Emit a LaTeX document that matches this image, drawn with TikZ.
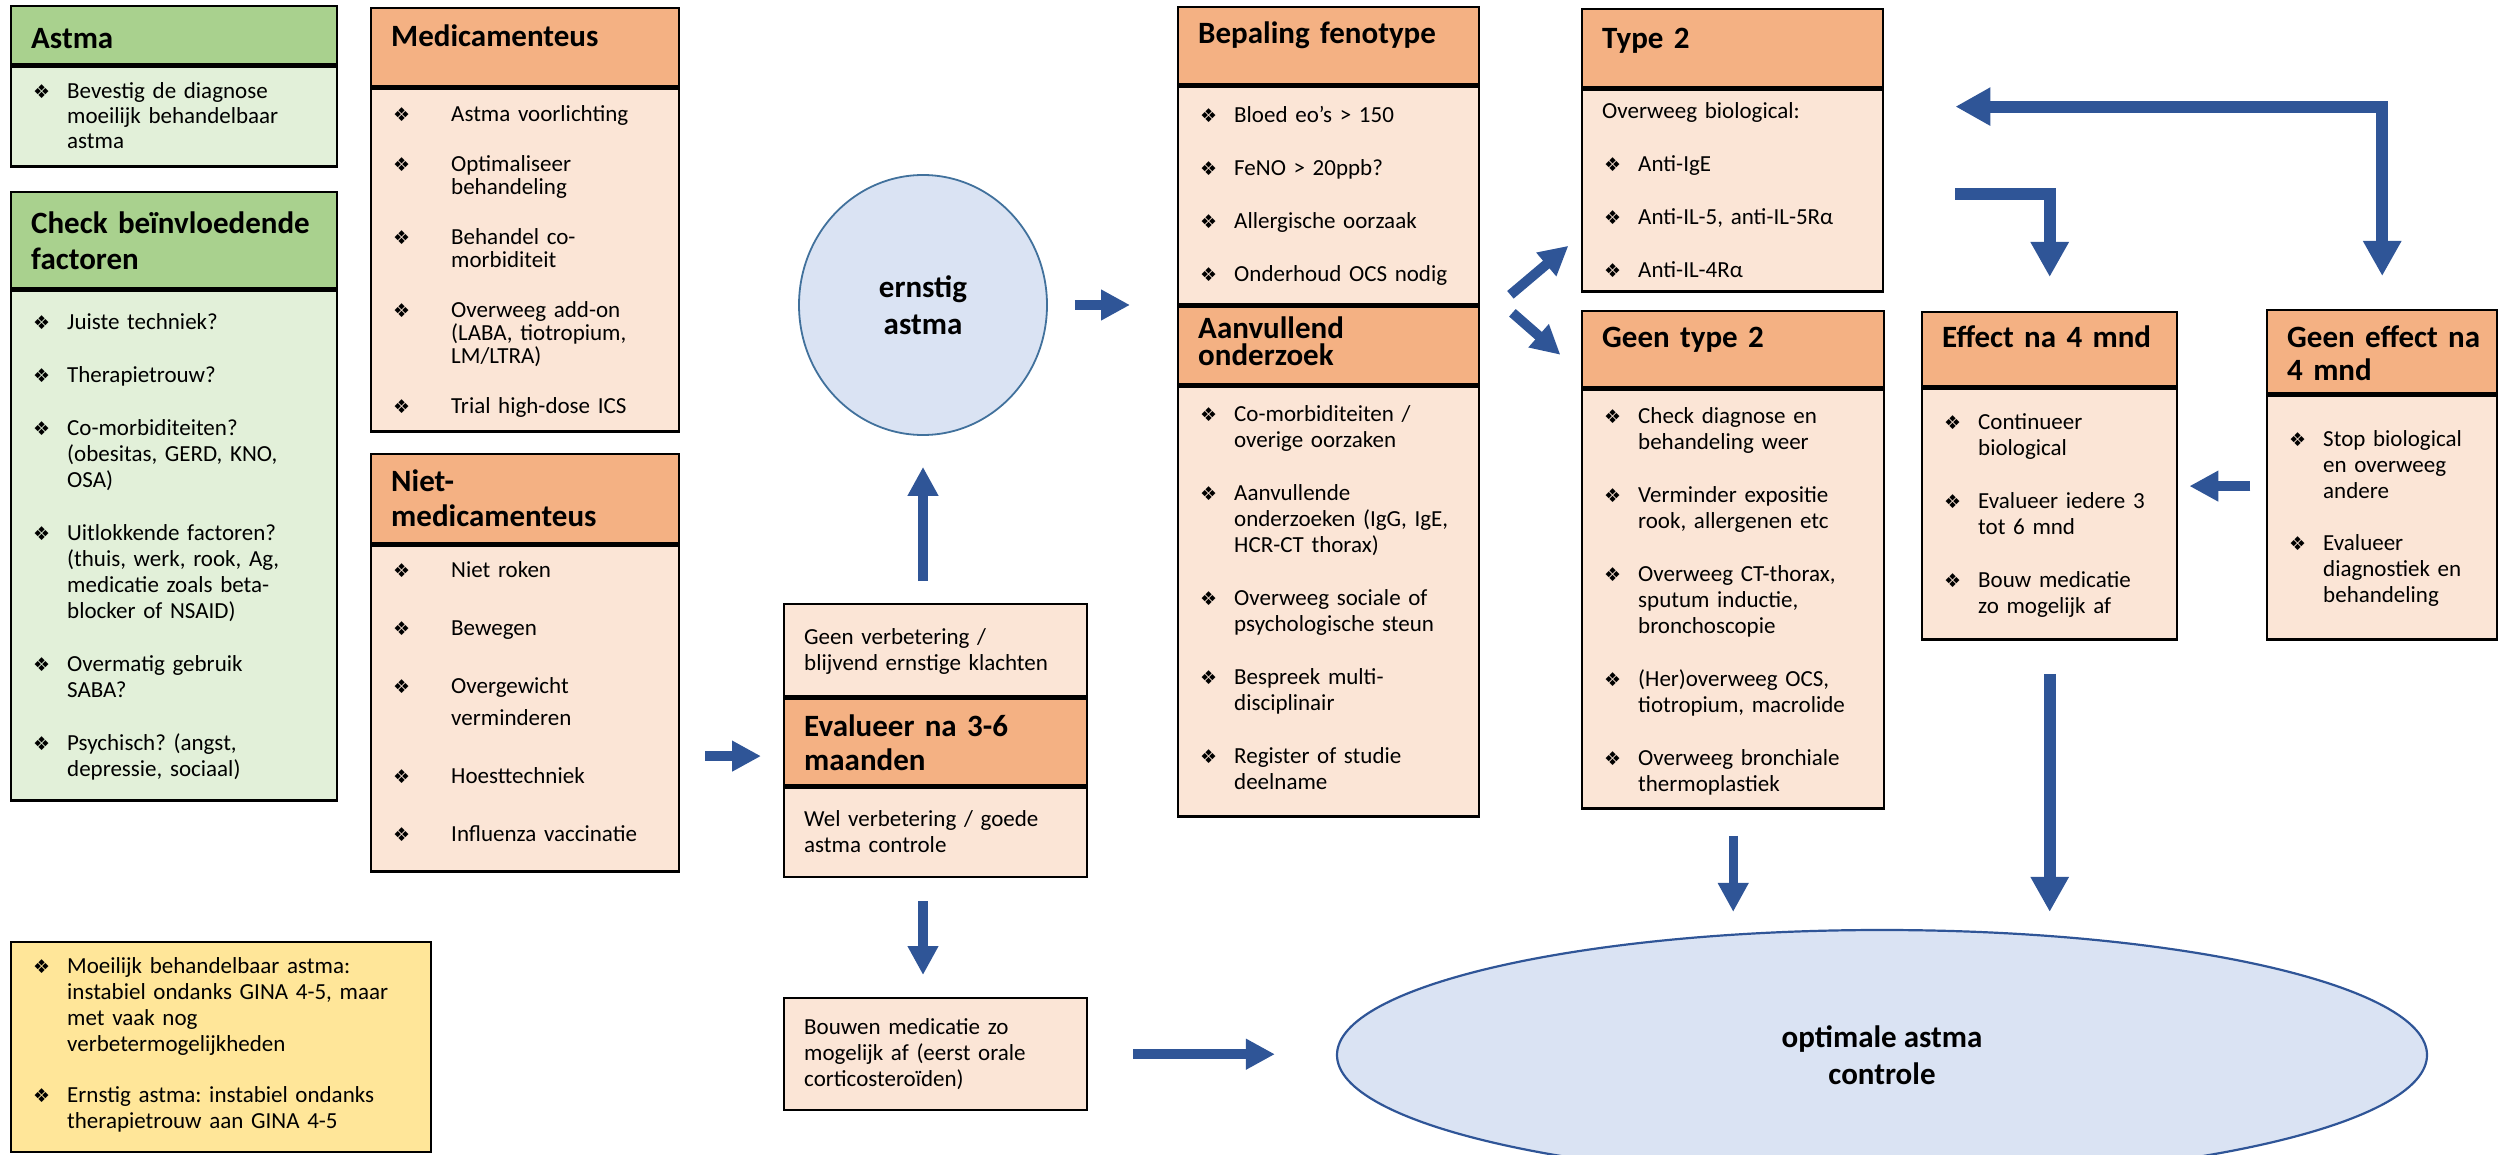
\documentclass[tikz,border=0pt]{standalone}
\usepackage{fontspec}
\setmainfont{Carlito}
\newfontfamily\dingfont{DejaVu Sans}
\usetikzlibrary{arrows.meta,shapes.geometric}

\definecolor{hdorange}{HTML}{F4B183}
\definecolor{bdpeach}{HTML}{FBE5D6}
\definecolor{hdgreen}{HTML}{A9D18E}
\definecolor{bdgreen}{HTML}{E2F0D9}
\definecolor{noteyellow}{HTML}{FFE699}
\definecolor{ovalfill}{HTML}{DAE3F3}
\definecolor{ovalline}{HTML}{41719C}
\definecolor{flowblue}{HTML}{2F5597}

\frenchspacing
\newcommand{\bdfont}{\fontsize{23}{26}\selectfont}
\newcommand{\hdfont}{\fontsize{31}{36}\selectfont\bfseries}
\newcommand{\bul}{{\dingfont\fontsize{19}{19}\selectfont ❖}}
\newcommand{\itm}[2][34pt]{\leftskip=22pt\hangindent=#1\hangafter=1\noindent\makebox[#1][l]{\bul}#2\par}
\newcommand{\ptxt}[1]{\leftskip=20pt\noindent #1\par}
\newcommand{\itmgap}[1][27pt]{\vspace{#1}}

\begin{document}
\begin{tikzpicture}[
		x=1pt, y=-1pt,
		flowtip/.tip={Triangle[length=29pt,width=29pt]},
		bigtip/.tip={Triangle[length=35pt,width=36pt]},
		hd/.style={draw, line width=2.4pt, fill=hdorange, anchor=north west, inner xsep=20pt, inner ysep=0pt, align=left, font=\hdfont},
		bd/.style={draw, line width=2.4pt, fill=bdpeach, anchor=north west, inner sep=0pt, align=left, font=\bdfont},
		pl/.style={bd, inner xsep=20pt},
		oval/.style={ellipse, draw=ovalline, line width=1.8pt, fill=ovalfill, align=center, font=\fontsize{31}{37}\selectfont\bfseries},
		flow/.style={draw=flowblue, line width=10pt, -flowtip},
		bigflow/.style={draw=flowblue, line width=12pt, -bigtip}
	]
		\useasboundingbox (0,0) rectangle (2498,1155);

		% left column
		\node[hd, fill=hdgreen, text width=286pt, text height=42pt, text depth=16pt] (astmaH) at (10,5) {Astma};
		\node[bd, fill=bdgreen, text width=326pt, text height=32pt, text depth=68pt, font=\fontsize{23}{25}\selectfont] (astmaB) at (astmaH.south west) {%
			\itm{Bevestig de diagnose\newline moeilijk behandelbaar\newline astma}};

		\node[hd, fill=hdgreen, text width=286pt, text height=41pt, text depth=55pt] (checkH) at (10,191) {\mbox{Check beïnvloedende}\\factoren};
		\node[bd, fill=bdgreen, text width=326pt, text height=39pt, text depth=471pt] (checkB) at (checkH.south west) {%
			\itm{Juiste techniek?}\itmgap
			\itm{Therapietrouw?}\itmgap
			\itm{Co-morbiditeiten?\newline (obesitas, GERD, KNO,\newline OSA)}\itmgap
			\itm{Uitlokkende factoren?\newline (thuis, werk, rook, Ag,\newline medicatie zoals beta-\newline blocker of NSAID)}\itmgap
			\itm{Overmatig gebruik\newline SABA?}\itmgap
			\itm{Psychisch? (angst,\newline depressie, sociaal)}};

		\node[bd, fill=noteyellow, text width=420pt, text height=31pt, text depth=179pt] (note) at (10,941) {%
			\itm{Moeilijk behandelbaar astma:\newline instabiel ondanks GINA 4-5, maar\newline met vaak nog\newline verbetermogelijkheden}\itmgap[25pt]
			\itm{Ernstig astma: instabiel ondanks\newline therapietrouw aan GINA 4-5}};

		% behandeling
		\node[hd, text width=268pt, text height=38pt, text depth=40pt] (medH) at (370,7) {Medicamenteus};
		\node[bd, text width=308pt, text height=33pt, text depth=310pt, font=\fontsize{23}{23}\selectfont] (medB) at (medH.south west) {%
			\itm[58pt]{Astma voorlichting}\itmgap
			\itm[58pt]{Optimaliseer\newline behandeling}\itmgap
			\itm[58pt]{Behandel co-\newline morbiditeit}\itmgap
			\itm[58pt]{Overweeg add-on\newline (LABA, tiotropium,\newline LM/LTRA)}\itmgap
			\itm[58pt]{Trial high-dose ICS}};

		\node[hd, text width=268pt, text height=37pt, text depth=52pt, font=\fontsize{31}{35}\selectfont\bfseries] (nietH) at (370,453) {Niet-\\medicamenteus};
		\node[bd, text width=308pt, text height=32pt, text depth=294pt, font=\fontsize{23}{32}\selectfont] (nietB) at (nietH.south west) {%
			\itm[58pt]{Niet roken}\itmgap[26pt]
			\itm[58pt]{Bewegen}\itmgap[26pt]
			\itm[58pt]{Overgewicht\newline verminderen}\itmgap[26pt]
			\itm[58pt]{Hoesttechniek}\itmgap[26pt]
			\itm[58pt]{Influenza vaccinatie}};

		% evaluatie
		\node[oval, minimum width=248pt, minimum height=260pt] (ernstig) at (923,305) {ernstig\\astma};

		\node[pl, text width=263pt, text height=40pt, text depth=52pt] (evTop) at (783,603) {Geen verbetering /\\blijvend ernstige klachten};
		\node[hd, text width=263pt, text height=38pt, text depth=49pt, font=\fontsize{31}{34}\selectfont\bfseries] (evMid) at (evTop.south west) {Evalueer na 3-6\\maanden};
		\node[pl, text width=263pt, text height=38pt, text depth=51pt] (evBot) at (evMid.south west) {Wel verbetering / goede\\astma controle};
		\node[pl, text width=263pt, text height=36pt, text depth=76pt] (bouwen) at (783,997) {Bouwen medicatie zo\\mogelijk af (eerst orale\\corticosteroïden)};

		% fenotype
		\node[hd, text width=261pt, text height=36pt, text depth=41pt] (bepH) at (1177,6) {Bepaling fenotype};
		\node[bd, text width=301pt, text height=36pt, text depth=182pt] (bepB) at (bepH.south west) {%
			\itm{Bloed eo’s > 150}\itmgap
			\itm{FeNO > 20ppb?}\itmgap
			\itm{Allergische oorzaak}\itmgap
			\itm{Onderhoud OCS nodig}};
		\node[hd, text width=261pt, text height=32pt, text depth=45pt, font=\fontsize{31}{27}\selectfont\bfseries] (aanH) at (bepB.south west) {Aanvullend\\onderzoek};
		\node[bd, text width=301pt, text height=35pt, text depth=395pt] (aanB) at (aanH.south west) {%
			\itm{Co-morbiditeiten /\newline overige oorzaken}\itmgap
			\itm{Aanvullende\newline onderzoeken (IgG, IgE,\newline HCR-CT thorax)}\itmgap
			\itm{Overweeg sociale of\newline psychologische steun}\itmgap
			\itm{Bespreek multi-\newline disciplinair}\itmgap
			\itm{Register of studie\newline deelname}};

		\node[hd, text width=261pt, text height=39pt, text depth=39pt] (t2H) at (1581,8) {Type 2};
		\node[bd, text width=301pt, text height=29pt, text depth=173pt] (t2B) at (t2H.south west) {%
			\ptxt{Overweeg biological:}\itmgap
			\itm{Anti-IgE}\itmgap
			\itm{Anti-IL-5, anti-IL-5Rα}\itmgap
			\itm{Anti-IL-4Rα}};

		\node[hd, text width=262pt, text height=36pt, text depth=40pt] (gt2H) at (1581,310) {Geen type 2};
		\node[bd, text width=302pt, text height=34pt, text depth=385pt] (gt2B) at (gt2H.south west) {%
			\itm{Check diagnose en\newline behandeling weer}\itmgap
			\itm{Verminder expositie\newline rook, allergenen etc}\itmgap
			\itm{Overweeg CT-thorax,\newline sputum inductie,\newline bronchoscopie}\itmgap
			\itm{(Her)overweeg OCS,\newline tiotropium, macrolide}\itmgap
			\itm{Overweeg bronchiale\newline thermoplastiek}};

		% biological
		\node[hd, text width=215pt, text height=35pt, text depth=39pt] (effH) at (1921,311) {Effect na 4 mnd};
		\node[bd, text width=255pt, text height=41pt, text depth=210pt] (effB) at (effH.south west) {%
			\itm{Continueer\newline biological}\itmgap
			\itm{Evalueer iedere 3\newline tot 6 mnd}\itmgap
			\itm{Bouw medicatie\newline zo mogelijk af}};

		\node[hd, text width=190pt, text height=37pt, text depth=46pt, font=\fontsize{31}{33}\selectfont\bfseries] (gefH) at (2266,309) {\mbox{Geen effect na}\\4 mnd};
		\node[bd, text width=230pt, text height=51pt, text depth=193pt] (gefB) at (gefH.south west) {%
			\itm{Stop biological\newline en overweeg\newline andere}\itmgap[26pt]
			\itm{Evalueer\newline diagnostiek en\newline behandeling}};

		\node[oval, draw=flowblue, line width=2.2pt, minimum width=1090pt, minimum height=250pt] (opt) at (1882,1055) {optimale astma\\controle};

		% pijlen
		\draw[flow, shorten <=27pt, shorten >=47pt] (ernstig.east) -- (bepB.west |- ernstig.east);
		\draw[flow, shorten <=22pt, shorten >=31pt] (evTop.north -| ernstig.south) -- (ernstig.south);
		\draw[flow] ([xshift=-78pt,yshift=-14pt]evMid.west) -- ([xshift=-22pt,yshift=-14pt]evMid.west);
		\draw[flow, shorten <=23pt, shorten >=22pt] (evBot.south -| ernstig.south) -- (bouwen.north -| ernstig.south);
		\draw[flow, shorten <=45pt, shorten >=61pt] (bouwen.east) -- (bouwen.east -| opt.west);

		\draw[flow] ([shift={(30pt,11pt)}]bepB.south east) -- ([shift={(88pt,60pt)}]bepB.south east);
		\draw[flow] ([shift={(32pt,-7pt)}]aanH.north east) -- ([shift={(80pt,-49pt)}]aanH.north east);

		\draw[bigflow] ([xshift=71pt,yshift=-3pt]t2B.east) -| ([yshift=34pt]effH.north);
		\draw[bigflow, bigtip-bigtip] ([yshift=33pt]gefH.north) |- ([xshift=71pt,yshift=84pt]t2B.east);
		\draw[flow] ([xshift=72pt,yshift=28pt]effB.east) -- ([xshift=11pt,yshift=28pt]effB.east);

		\draw[flow, line width=9pt, shorten <=26pt, shorten >=17pt] (gt2B.south) -- (gt2B.south |- opt.north);
		\draw[bigflow, shorten <=33pt, shorten >=17pt] (effB.south) -- (effB.south |- opt.north);
	\end{tikzpicture}
\end{document}
